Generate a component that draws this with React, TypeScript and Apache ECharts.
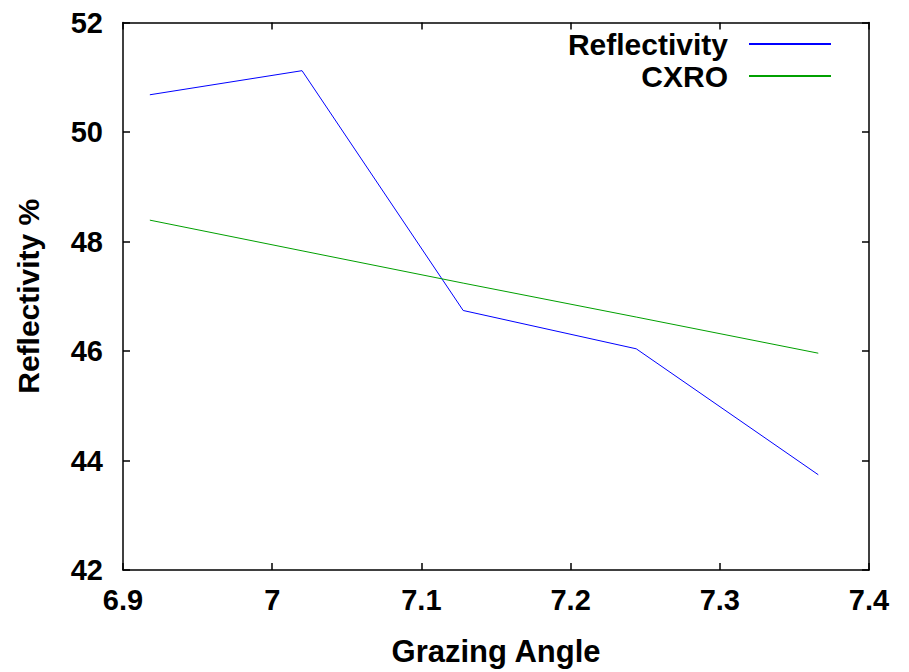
import React, { useEffect, useRef } from "react";
import * as echarts from "echarts";

const grazingAngle = [6.918, 7.02, 7.128, 7.244, 7.366];
const reflectivity = [50.68, 51.12, 46.74, 46.04, 43.74];
const cxro = [48.39, 47.83, 47.24, 46.62, 45.96];
const seriesNames = ["Reflectivity", "CXRO"];

const FONT = "Liberation Sans, Arial, Helvetica, sans-serif";

export default function App() {
  const ref = useRef<HTMLDivElement>(null);
  useEffect(() => {
    if (!ref.current) return;
    const chart = echarts.init(ref.current, null, { renderer: "svg" });
    const axisLine = { show: true, lineStyle: { color: "#000", width: 1.5 } };
    const tick = { show: true, inside: true, length: 7, lineStyle: { color: "#000", width: 1.5 } };
    const legendBase = {
      orient: "horizontal",
      align: "right",
      right: 73,
      itemWidth: 82,
      itemHeight: 2,
      icon: "rect",
      selectedMode: false,
      textStyle: {
        fontFamily: FONT,
        fontWeight: "bold",
        fontSize: 30,
        color: "#000",
        padding: [0, 16, 0, 0],
      },
    };
    chart.setOption({
      animation: false,
      backgroundColor: "#fff",
      grid: { left: 123, right: 40, top: 22.5, bottom: 99, containLabel: false },
      legend: [
        { ...legendBase, top: 24, data: [seriesNames[0]] },
        { ...legendBase, top: 56, data: [seriesNames[1]] },
      ],
      xAxis: [
        {
          type: "value",
          min: 6.9,
          max: 7.4,
          interval: 0.1,
          position: "bottom",
          name: "Grazing Angle",
          nameLocation: "middle",
          nameGap: 66,
          nameTextStyle: { fontFamily: FONT, fontWeight: "bold", fontSize: 31, color: "#000" },
          axisLine,
          axisTick: tick,
          splitLine: { show: false },
          axisLabel: {
            fontFamily: FONT,
            fontWeight: "bold",
            fontSize: 29,
            color: "#000",
            margin: 15,
          },
        },
        {
          type: "value",
          min: 6.9,
          max: 7.4,
          interval: 0.1,
          position: "top",
          axisLine,
          axisTick: tick,
          splitLine: { show: false },
          axisLabel: { show: false },
        },
      ],
      yAxis: [
        {
          type: "value",
          min: 42,
          max: 52,
          interval: 2,
          position: "left",
          name: "Reflectivity %",
          nameLocation: "middle",
          nameGap: 80,
          nameTextStyle: { fontFamily: FONT, fontWeight: "bold", fontSize: 30, color: "#000" },
          axisLine,
          axisTick: tick,
          splitLine: { show: false },
          axisLabel: {
            fontFamily: FONT,
            fontWeight: "bold",
            fontSize: 29,
            color: "#000",
            margin: 20,
          },
        },
        {
          type: "value",
          min: 42,
          max: 52,
          interval: 2,
          position: "right",
          axisLine,
          axisTick: tick,
          splitLine: { show: false },
          axisLabel: { show: false },
        },
      ],
      series: [
        {
          name: seriesNames[0],
          type: "line",
          data: grazingAngle.map((x, i) => [x, reflectivity[i]]),
          showSymbol: false,
          symbol: "none",
          lineStyle: { color: "#0000ff", width: 1 },
          itemStyle: { color: "#0000ff" },
        },
        {
          name: seriesNames[1],
          type: "line",
          data: grazingAngle.map((x, i) => [x, cxro[i]]),
          showSymbol: false,
          symbol: "none",
          lineStyle: { color: "#00a000", width: 1 },
          itemStyle: { color: "#00a000" },
        },
      ],
    });
    return () => chart.dispose();
  }, []);
  return (
    <div
      ref={ref}
      style={{ position: "fixed", left: 0, top: 0, width: 909, height: 672, background: "#fff" }}
    />
  );
}
